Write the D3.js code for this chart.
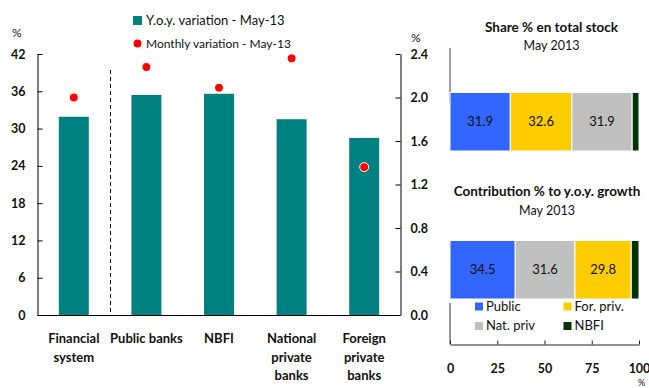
<!DOCTYPE html>
<html>
<head>
<meta charset="utf-8">
<script src="https://cdn.jsdelivr.net/npm/d3@7"></script>
<style>
  html, body { margin: 0; padding: 0; background: #fff; }
  svg { display: block; font-family: Lato, "Open Sans", sans-serif; }
</style>
</head>
<body>
<svg id="chart" width="649" height="388"></svg>
<script>
// ---- data ----
const categories = ["Financial\nsystem", "Public banks", "NBFI", "National\nprivate\nbanks", "Foreign\nprivate\nbanks"];
const yoyValues = [31.9, 35.4, 35.6, 31.5, 28.5];          // % (left axis)
const monthlyValues = [2.0, 2.28, 2.09, 2.36, 1.36];       // % (right axis)
const leftTicks = [0, 6, 12, 18, 24, 30, 36, 42];
const rightTicks = [0, 0.4, 0.8, 1.2, 1.6, 2.0, 2.4];

const groups = ["Public", "For. priv.", "Nat. priv", "NBFI"];
const groupColors = ["#3366ff", "#ffcc00", "#c0c0c0", "#003300"];
const shareOrder = ["Public", "For. priv.", "Nat. priv", "NBFI"];
const shareValues = [31.9, 32.6, 31.9, 3.6];
const contribOrder = ["Public", "Nat. priv", "For. priv.", "NBFI"];
const contribValues = [34.5, 31.6, 29.8, 4.1];
const pctTicks = [0, 25, 50, 75, 100];

const svg = d3.select("#chart");
const TEAL = "#008080", RED = "#ff0000";

// ---- left: bars + dots with dual axis ----
const x0 = 37.5, x1 = 400.5, yTop = 54, yBase = 315;
const x = d3.scaleBand().domain(categories).range([x0, x1])
  .paddingInner(0.587).paddingOuter(0.2935);
const yL = d3.scaleLinear().domain([0, 42]).range([yBase, yTop]);
const yR = d3.scaleLinear().domain([0, 2.4]).range([yBase, yTop]);

svg.append("g").selectAll("rect").data(yoyValues).join("rect")
  .attr("x", (d, i) => x(categories[i]))
  .attr("width", x.bandwidth())
  .attr("y", d => yL(d))
  .attr("height", d => yBase - yL(d))
  .attr("fill", TEAL);

// separator between the system total and its components
const sepX = Math.round((x(categories[0]) + x.bandwidth() + x(categories[1])) / 2) + 0.5;
svg.append("line")
  .attr("x1", sepX).attr("x2", sepX).attr("y1", 70).attr("y2", yBase)
  .attr("stroke", "#000").attr("stroke-width", 1).attr("stroke-dasharray", "4,3");

svg.append("g").selectAll("circle").data(monthlyValues).join("circle")
  .attr("cx", (d, i) => x(categories[i]) + x.bandwidth() / 2)
  .attr("cy", d => yR(d))
  .attr("r", 4.5)
  .attr("fill", RED)
  .attr("stroke", "#fff").attr("stroke-width", 1);

const axisL = svg.append("g").attr("transform", `translate(${x0},0)`)
  .call(d3.axisLeft(yL).tickValues(leftTicks).tickFormat(d3.format("d"))
    .tickSizeInner(-5).tickSizeOuter(0).tickPadding(12));
const axisR = svg.append("g").attr("transform", `translate(${x1},0)`)
  .call(d3.axisRight(yR).tickValues(rightTicks).tickFormat(d3.format(".1f"))
    .tickSizeInner(-5).tickSizeOuter(0).tickPadding(10));
[axisL, axisR].forEach(g => {
  g.select(".domain").attr("stroke", "#000");
  g.selectAll(".tick line").attr("stroke", "#000");
  g.selectAll(".tick text").attr("font-size", 12.5).attr("font-weight", "bold")
    .attr("fill", "#111").attr("font-family", "Lato, sans-serif");
});
svg.append("line").attr("x1", x0).attr("x2", x1).attr("y1", yBase + 0.5).attr("y2", yBase + 0.5)
  .attr("stroke", "#000");

svg.append("text").attr("x", 12).attr("y", 37).attr("font-size", 12).attr("fill", "#111").text("%");
svg.append("text").attr("x", 411).attr("y", 42).attr("font-size", 12).attr("fill", "#111").text("%");

// category labels
const catText = svg.append("g").selectAll("text").data(categories).join("text")
  .attr("x", d => x(d) + x.bandwidth() / 2)
  .attr("y", 343)
  .attr("text-anchor", "middle")
  .attr("font-size", 13).attr("font-weight", "bold").attr("fill", "#111");
catText.each(function (d) {
  const t = d3.select(this);
  d.split("\n").forEach((line, j) => {
    t.append("tspan").attr("x", x(d) + x.bandwidth() / 2).attr("dy", j === 0 ? 0 : 18.5).text(line);
  });
});

// legend
svg.append("rect").attr("x", 133).attr("y", 16).attr("width", 9).attr("height", 9).attr("fill", TEAL);
svg.append("text").attr("x", 146).attr("y", 24.5).attr("font-size", 13).attr("fill", "#111")
  .text("Y.o.y. variation - May-13");
svg.append("circle").attr("cx", 137.5).attr("cy", 43.5).attr("r", 4).attr("fill", RED);
svg.append("text").attr("x", 146).attr("y", 48).attr("font-size", 12).attr("fill", "#111")
  .text("Monthly variation - May-13");

// ---- right: 100% stacked bars ----
const px = d3.scaleLinear().domain([0, 100]).range([450, 639]);
const color = d3.scaleOrdinal().domain(groups).range(groupColors);

function stackedBar(order, values, yTopBar, yBot) {
  let acc = 0;
  const segs = order.map((k, i) => {
    const s = { key: k, v: values[i], x0: acc, x1: acc + values[i] };
    acc += values[i];
    return s;
  });
  const g = svg.append("g");
  g.selectAll("rect").data(segs).join("rect")
    .attr("x", d => px(d.x0))
    .attr("width", d => px(d.x1) - px(d.x0))
    .attr("y", yTopBar).attr("height", yBot - yTopBar)
    .attr("fill", d => color(d.key))
    .attr("stroke", "#fff").attr("stroke-width", 1);
  g.selectAll("text").data(segs.filter(d => d.v > 10)).join("text")
    .attr("x", d => (px(d.x0) + px(d.x1)) / 2)
    .attr("y", (yTopBar + yBot) / 2 + 4.5)
    .attr("text-anchor", "middle").attr("font-size", 13).attr("fill", "#111")
    .text(d => d3.format(".1f")(d.v));
}

// Share in total stock
svg.append("text").attr("x", 551.5).attr("y", 32).attr("text-anchor", "middle")
  .attr("font-size", 13.5).attr("font-weight", "bold").attr("fill", "#111").text("Share % en total stock");
svg.append("text").attr("x", 551.5).attr("y", 50).attr("text-anchor", "middle")
  .attr("font-size", 12.5).attr("fill", "#111").text("May 2013");
svg.append("line").attr("x1", 450).attr("x2", 450).attr("y1", 48).attr("y2", 103)
  .attr("stroke", "#808080").attr("stroke-width", 1.5);
stackedBar(shareOrder, shareValues, 92.5, 151);

// Contribution to growth
svg.append("text").attr("x", 547).attr("y", 196).attr("text-anchor", "middle")
  .attr("font-size", 13.5).attr("font-weight", "bold").attr("fill", "#111").text("Contribution % to y.o.y. growth");
svg.append("text").attr("x", 547).attr("y", 215).attr("text-anchor", "middle")
  .attr("font-size", 12.5).attr("fill", "#111").text("May 2013");
stackedBar(contribOrder, contribValues, 240.5, 299);

svg.append("line").attr("x1", 450).attr("x2", 450).attr("y1", 303).attr("y2", 344)
  .attr("stroke", "#555").attr("stroke-width", 1.2);
const axisP = svg.append("g").attr("transform", "translate(0,344.5)")
  .call(d3.axisBottom(px).tickValues(pctTicks).tickFormat(d3.format("d"))
    .tickSizeInner(-4).tickSizeOuter(0).tickPadding(20));
axisP.select(".domain").attr("stroke", "#222");
axisP.selectAll(".tick line").attr("stroke", "#222");
axisP.selectAll(".tick text").attr("font-size", 12.5).attr("font-weight", "bold")
  .attr("fill", "#111").attr("font-family", "Lato, sans-serif");
svg.append("text").attr("x", 638).attr("y", 386).attr("font-size", 9).attr("fill", "#111").text("%");

// legend for stacked bars
const legendItems = [
  { key: "Public", x: 475, y: 302.5 },
  { key: "For. priv.", x: 563.5, y: 302.5 },
  { key: "Nat. priv", x: 475, y: 322 },
  { key: "NBFI", x: 563.5, y: 322 }
];
const lg = svg.append("g").selectAll("g").data(legendItems).join("g");
lg.append("rect").attr("x", d => d.x).attr("y", d => d.y).attr("width", 8).attr("height", 8)
  .attr("fill", d => color(d.key));
lg.append("text").attr("x", d => d.x + 11).attr("y", d => d.y + 8).attr("font-size", 13)
  .attr("fill", "#111").text(d => d.key);
</script>
</body>
</html>
